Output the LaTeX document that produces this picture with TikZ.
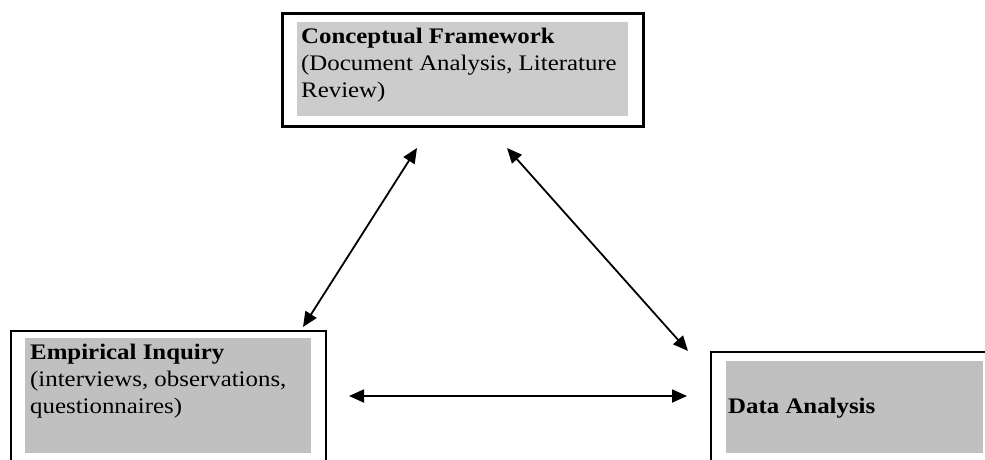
\documentclass[tikz,border=0pt]{standalone}
\usepackage{fontspec}
\setmainfont{Liberation Serif}[FakeStretch=1.12]
\usetikzlibrary{arrows.meta}
\definecolor{lightpanel}{RGB}{204,204,204}
\definecolor{silverpanel}{RGB}{192,192,192}
\begin{document}
\begin{tikzpicture}[x=1pt,y=-1pt,
  frame/.style={draw=black, line width=#1, anchor=north west, inner sep=0pt},
  frame/.default=2pt,
  panel/.style={fill=#1, draw=none, anchor=north west, inner sep=0pt},
  boxtext/.style={anchor=base west, inner sep=0pt, font=\fontsize{22.2}{27}\selectfont},
  link/.style={line width=1.8pt, {Triangle[length=15pt,width=13pt]}-{Triangle[length=15pt,width=13pt]}}
]
\useasboundingbox (0,0) rectangle (985,460);
\clip (0,0) rectangle (985,460);

% Conceptual framework box
\node[frame=2.6pt, minimum width=361pt, minimum height=113pt] (cfbox) at (281,12) {};
\node[panel=lightpanel, minimum width=331pt, minimum height=94pt] (cffill) at (297,22) {};
\node[boxtext] (cftext) at (301,44)
  {\begin{tabular}[t]{@{}l@{}}\textbf{Conceptual Framework}\\(Document Analysis, Literature\\Review)\end{tabular}};

% Empirical inquiry box
\node[frame, minimum width=315pt, minimum height=200pt] (eibox) at (10,330) {};
\node[panel=silverpanel, minimum width=286pt, minimum height=115pt] (eifill) at (25,338) {};
\node[boxtext] (eitext) at (30,359)
  {\begin{tabular}[t]{@{}l@{}}\textbf{Empirical Inquiry}\\(interviews, observations,\\questionnaires)\end{tabular}};

% Data analysis box
\node[frame, minimum width=300pt, minimum height=150pt] (dabox) at (710,351) {};
\node[panel=silverpanel, minimum width=257pt, minimum height=92pt] (dafill) at (726,361) {};
\node[boxtext] (datext) at (728,413) {\textbf{Data Analysis}};

% Arrow end points
\coordinate (cfL) at (417,148);
\coordinate (eiT) at (303,327);
\coordinate (cfR) at (507,148);
\coordinate (daT) at (688,351);
\coordinate (eiR) at (349,396);
\coordinate (daL) at (687,396);

\draw[link] (eiT) -- (cfL);
\draw[link] (cfR) -- (daT);
\draw[link] (eiR) -- (daL);
\end{tikzpicture}
\end{document}
